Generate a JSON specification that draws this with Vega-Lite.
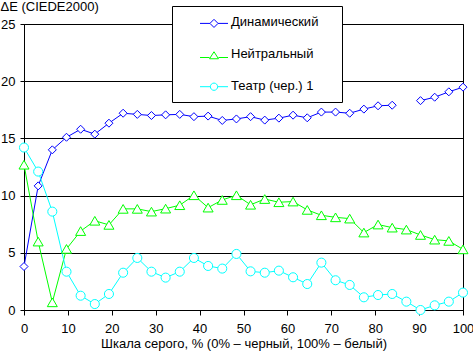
{
  "$schema": "https://vega.github.io/schema/vega-lite/v6.json",
  "autosize": "none",
  "padding": {"left": 24, "top": 24, "right": 10, "bottom": 43},
  "width": 439,
  "height": 286,
  "background": "white",
  "config": {
    "font": "Liberation Sans",
    "view": {"stroke": "black", "strokeWidth": 1},
    "axis": {
      "labelFont": "Liberation Sans",
      "titleFont": "Liberation Sans",
      "labelFontSize": 13,
      "titleFontSize": 13,
      "titleFontWeight": "normal",
      "labelColor": "black",
      "titleColor": "black",
      "domainColor": "black",
      "tickColor": "black",
      "gridColor": "black",
      "gridOpacity": 1
    }
  },
  "data": {
    "values": [
      {"series": "Динамический", "x": 0, "y": 3.8, "seg": 1},
      {"series": "Динамический", "x": 3.23, "y": 10.85, "seg": 1},
      {"series": "Динамический", "x": 6.45, "y": 14.0, "seg": 1},
      {"series": "Динамический", "x": 9.68, "y": 15.1, "seg": 1},
      {"series": "Динамический", "x": 12.9, "y": 15.8, "seg": 1},
      {"series": "Динамический", "x": 16.13, "y": 15.37, "seg": 1},
      {"series": "Динамический", "x": 19.35, "y": 16.33, "seg": 1},
      {"series": "Динамический", "x": 22.58, "y": 17.2, "seg": 1},
      {"series": "Динамический", "x": 25.81, "y": 17.1, "seg": 1},
      {"series": "Динамический", "x": 29.03, "y": 17.0, "seg": 1},
      {"series": "Динамический", "x": 32.26, "y": 17.06, "seg": 1},
      {"series": "Динамический", "x": 35.48, "y": 17.1, "seg": 1},
      {"series": "Динамический", "x": 38.71, "y": 16.9, "seg": 1},
      {"series": "Динамический", "x": 41.94, "y": 16.95, "seg": 1},
      {"series": "Динамический", "x": 45.16, "y": 16.57, "seg": 1},
      {"series": "Динамический", "x": 48.39, "y": 16.7, "seg": 1},
      {"series": "Динамический", "x": 51.61, "y": 16.9, "seg": 1},
      {"series": "Динамический", "x": 54.84, "y": 16.6, "seg": 1},
      {"series": "Динамический", "x": 58.06, "y": 16.77, "seg": 1},
      {"series": "Динамический", "x": 61.29, "y": 17.03, "seg": 1},
      {"series": "Динамический", "x": 64.52, "y": 16.8, "seg": 1},
      {"series": "Динамический", "x": 67.74, "y": 17.3, "seg": 1},
      {"series": "Динамический", "x": 70.97, "y": 17.3, "seg": 1},
      {"series": "Динамический", "x": 74.19, "y": 17.2, "seg": 1},
      {"series": "Динамический", "x": 77.42, "y": 17.56, "seg": 1},
      {"series": "Динамический", "x": 80.65, "y": 17.85, "seg": 1},
      {"series": "Динамический", "x": 83.87, "y": 17.9, "seg": 1},
      {"series": "Динамический", "x": 90.32, "y": 18.3, "seg": 2},
      {"series": "Динамический", "x": 93.55, "y": 18.6, "seg": 2},
      {"series": "Динамический", "x": 96.77, "y": 19.07, "seg": 2},
      {"series": "Динамический", "x": 100, "y": 19.48, "seg": 2},
      {"series": "Нейтральный", "x": 0, "y": 12.7, "seg": 1},
      {"series": "Нейтральный", "x": 3.23, "y": 5.98, "seg": 1},
      {"series": "Нейтральный", "x": 6.45, "y": 0.67, "seg": 1},
      {"series": "Нейтральный", "x": 9.68, "y": 5.34, "seg": 1},
      {"series": "Нейтральный", "x": 12.9, "y": 6.9, "seg": 1},
      {"series": "Нейтральный", "x": 16.13, "y": 7.8, "seg": 1},
      {"series": "Нейтральный", "x": 19.35, "y": 7.44, "seg": 1},
      {"series": "Нейтральный", "x": 22.58, "y": 8.84, "seg": 1},
      {"series": "Нейтральный", "x": 25.81, "y": 8.84, "seg": 1},
      {"series": "Нейтральный", "x": 29.03, "y": 8.6, "seg": 1},
      {"series": "Нейтральный", "x": 32.26, "y": 8.86, "seg": 1},
      {"series": "Нейтральный", "x": 35.48, "y": 9.16, "seg": 1},
      {"series": "Нейтральный", "x": 38.71, "y": 10.03, "seg": 1},
      {"series": "Нейтральный", "x": 41.94, "y": 8.95, "seg": 1},
      {"series": "Нейтральный", "x": 45.16, "y": 9.62, "seg": 1},
      {"series": "Нейтральный", "x": 48.39, "y": 10.03, "seg": 1},
      {"series": "Нейтральный", "x": 51.61, "y": 9.2, "seg": 1},
      {"series": "Нейтральный", "x": 54.84, "y": 9.7, "seg": 1},
      {"series": "Нейтральный", "x": 58.06, "y": 9.42, "seg": 1},
      {"series": "Нейтральный", "x": 61.29, "y": 9.48, "seg": 1},
      {"series": "Нейтральный", "x": 64.52, "y": 8.75, "seg": 1},
      {"series": "Нейтральный", "x": 67.74, "y": 8.28, "seg": 1},
      {"series": "Нейтральный", "x": 70.97, "y": 8.1, "seg": 1},
      {"series": "Нейтральный", "x": 74.19, "y": 7.99, "seg": 1},
      {"series": "Нейтральный", "x": 77.42, "y": 6.77, "seg": 1},
      {"series": "Нейтральный", "x": 80.65, "y": 7.47, "seg": 1},
      {"series": "Нейтральный", "x": 83.87, "y": 7.2, "seg": 1},
      {"series": "Нейтральный", "x": 87.1, "y": 7.03, "seg": 1},
      {"series": "Нейтральный", "x": 90.32, "y": 6.56, "seg": 1},
      {"series": "Нейтральный", "x": 93.55, "y": 6.15, "seg": 1},
      {"series": "Нейтральный", "x": 96.77, "y": 6.04, "seg": 1},
      {"series": "Нейтральный", "x": 100, "y": 5.3, "seg": 1},
      {"series": "Театр (чер.) 1", "x": 0, "y": 14.2, "seg": 1},
      {"series": "Театр (чер.) 1", "x": 3.23, "y": 12.1, "seg": 1},
      {"series": "Театр (чер.) 1", "x": 6.45, "y": 8.6, "seg": 1},
      {"series": "Театр (чер.) 1", "x": 9.68, "y": 3.35, "seg": 1},
      {"series": "Театр (чер.) 1", "x": 12.9, "y": 1.25, "seg": 1},
      {"series": "Театр (чер.) 1", "x": 16.13, "y": 0.52, "seg": 1},
      {"series": "Театр (чер.) 1", "x": 19.35, "y": 1.4, "seg": 1},
      {"series": "Театр (чер.) 1", "x": 22.58, "y": 3.26, "seg": 1},
      {"series": "Театр (чер.) 1", "x": 25.81, "y": 4.55, "seg": 1},
      {"series": "Театр (чер.) 1", "x": 29.03, "y": 3.35, "seg": 1},
      {"series": "Театр (чер.) 1", "x": 32.26, "y": 2.83, "seg": 1},
      {"series": "Театр (чер.) 1", "x": 35.48, "y": 3.35, "seg": 1},
      {"series": "Театр (чер.) 1", "x": 38.71, "y": 4.55, "seg": 1},
      {"series": "Театр (чер.) 1", "x": 41.94, "y": 3.85, "seg": 1},
      {"series": "Театр (чер.) 1", "x": 45.16, "y": 3.62, "seg": 1},
      {"series": "Театр (чер.) 1", "x": 48.39, "y": 4.9, "seg": 1},
      {"series": "Театр (чер.) 1", "x": 51.61, "y": 3.38, "seg": 1},
      {"series": "Театр (чер.) 1", "x": 54.84, "y": 3.26, "seg": 1},
      {"series": "Театр (чер.) 1", "x": 58.06, "y": 3.44, "seg": 1},
      {"series": "Театр (чер.) 1", "x": 61.29, "y": 2.86, "seg": 1},
      {"series": "Театр (чер.) 1", "x": 64.52, "y": 2.27, "seg": 1},
      {"series": "Театр (чер.) 1", "x": 67.74, "y": 4.14, "seg": 1},
      {"series": "Театр (чер.) 1", "x": 70.97, "y": 2.6, "seg": 1},
      {"series": "Театр (чер.) 1", "x": 74.19, "y": 2.19, "seg": 1},
      {"series": "Театр (чер.) 1", "x": 77.42, "y": 1.11, "seg": 1},
      {"series": "Театр (чер.) 1", "x": 80.65, "y": 1.31, "seg": 1},
      {"series": "Театр (чер.) 1", "x": 83.87, "y": 1.4, "seg": 1},
      {"series": "Театр (чер.) 1", "x": 87.1, "y": 0.73, "seg": 1},
      {"series": "Театр (чер.) 1", "x": 90.32, "y": 0.0, "seg": 1},
      {"series": "Театр (чер.) 1", "x": 93.55, "y": 0.41, "seg": 1},
      {"series": "Театр (чер.) 1", "x": 96.77, "y": 0.73, "seg": 1},
      {"series": "Театр (чер.) 1", "x": 100, "y": 1.52, "seg": 1}
    ]
  },
  "encoding": {
    "x": {
      "field": "x",
      "type": "quantitative",
      "scale": {"domain": [0, 100], "nice": false, "zero": false},
      "axis": {
        "title": "Шкала серого, % (0% – черный, 100% – белый)",
        "values": [0, 10, 20, 30, 40, 50, 60, 70, 80, 90, 100],
        "grid": false,
        "tickSize": 5,
        "labelPadding": 7,
        "titlePadding": 2,
        "labelFlush": false
      }
    },
    "y": {
      "field": "y",
      "type": "quantitative",
      "scale": {"domain": [0, 25], "nice": false},
      "axis": {
        "title": "ΔE (CIEDE2000)",
        "values": [0, 5, 10, 15, 20, 25],
        "grid": true,
        "tickSize": 4,
        "labelPadding": 5,
        "titleAngle": 0,
        "titleAlign": "left",
        "titleBaseline": "top",
        "titleX": -24,
        "titleY": -24,
        "labelFlush": false
      }
    },
    "color": {
      "field": "series",
      "type": "nominal",
      "scale": {
        "domain": ["Динамический", "Нейтральный", "Театр (чер.) 1"],
        "range": ["#0000FF", "#00FF00", "#00FFFF"]
      },
      "legend": {
        "title": null,
        "orient": "none",
        "direction": "vertical",
        "legendX": 148,
        "legendY": -18,
        "padding": 0,
        "rowPadding": 0,
        "labelFont": "Liberation Sans",
        "labelFontSize": 13,
        "labelColor": "black",
        "labelOffset": 2,
        "labelLimit": 300,
        "strokeColor": "black",
        "fillColor": "white",
        "symbolSize": 784,
        "symbolStrokeWidth": 1,
        "symbolType": "circle",
        "encode": {
          "entries": {
            "update": {
              "noBound": {"value": false},
              "width": {"value": 170},
              "height": {"value": 32}
            }
          },
          "labels": {
            "update": {
              "x": {"value": 59},
              "y": {"value": 16},
              "baseline": {"value": "middle"}
            }
          },
          "symbols": {
            "update": {
              "x": {"value": 42},
              "y": {"value": 16},
              "fill": {"value": "white"},
              "fillOpacity": {"value": 1},
              "opacity": {"value": 1},
              "size": {"value": 784},
              "shape": {"signal": "datum.value === 'Динамический' ? 'M-1,0.1L-0.29,0.1M0.29,0.1L1,0.1M0,-0.19L0.29,0.1L0,0.39L-0.29,0.1Z' : datum.value === 'Нейтральный' ? 'M-1,0.25L-0.32,0.25M0.32,0.25L1,0.25M0,-0.16L0.32,0.34L-0.32,0.34Z' : 'M-1,0.05L-0.26,0.05M0.26,0.05L1,0.05M0.26,0.05A0.26,0.26,0,1,1,-0.26,0.05A0.26,0.26,0,1,1,0.26,0.05Z'"}
            }
          }
        }
      }
    }
  },
  "layer": [
    {
      "mark": {"type": "line", "strokeWidth": 1},
      "encoding": {
        "detail": {"field": "seg", "type": "nominal"}
      }
    },
    {
      "mark": {"type": "point", "filled": false, "fill": "white", "fillOpacity": 1, "opacity": 1, "strokeWidth": 1},
      "encoding": {
        "shape": {
          "field": "series",
          "type": "nominal",
          "scale": {
            "domain": ["Театр (чер.) 1", "Нейтральный", "Динамический"],
            "range": ["circle", "triangle-up", "diamond"]
          },
          "legend": null
        },
        "size": {
          "field": "series",
          "type": "nominal",
          "scale": {
            "domain": ["Нейтральный", "Театр (чер.) 1", "Динамический"],
            "range": [100, 64, 100]
          },
          "legend": null
        }
      }
    }
  ]
}
